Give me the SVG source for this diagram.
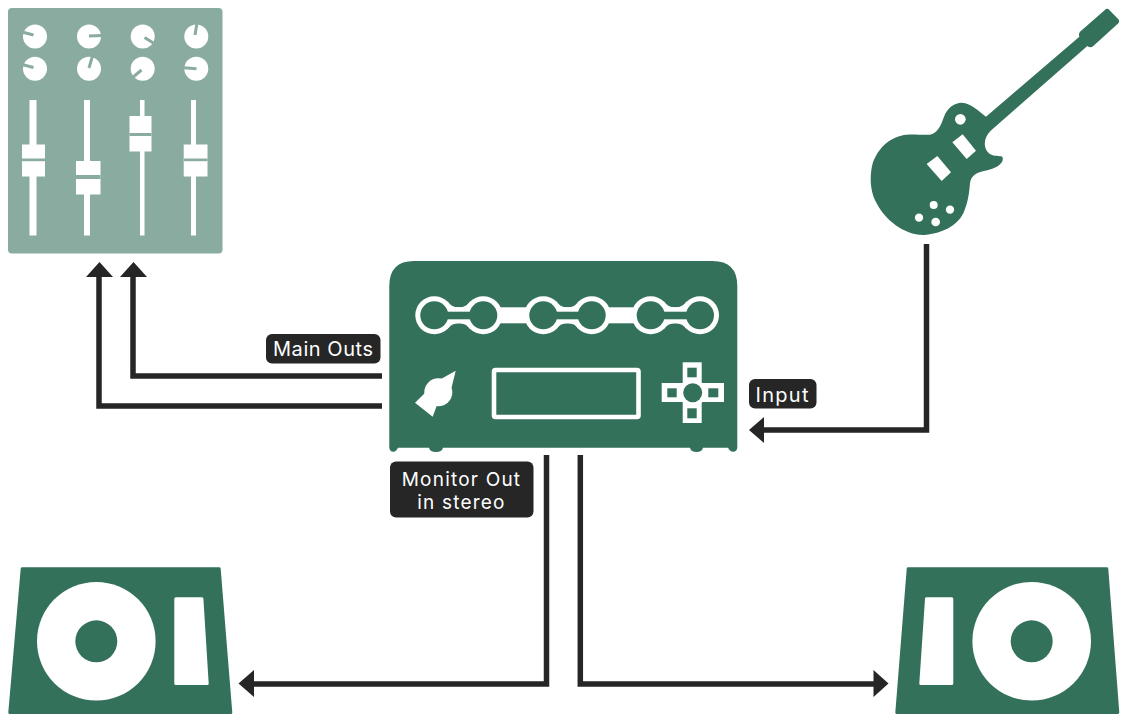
<svg xmlns="http://www.w3.org/2000/svg" width="1121" height="716" viewBox="0 0 1121 716">
<defs><style>
.g{fill:#34715b}
.w{fill:#fff}
.wire{fill:none;stroke:#262626;stroke-width:5.5;stroke-linejoin:miter}
.head{fill:#262626}
.tag{fill:#262626}
.lbl{fill:#fff;font-family:"Inter","Noto Sans",sans-serif;font-size:20px;font-weight:400;text-anchor:middle}
.slot{stroke:#8aaba0;stroke-width:3;fill:none}
.gap{fill:#8aaba0}
</style>
<path id="fillet" d="M13 -14 Q17 -8 24 -8 H25 Q32 -8 36 -14 V14 Q32 8 25 8 H24 Q17 8 13 14Z"/>
</defs>
<rect width="1121" height="716" fill="#fff"/>
<g id="mixer">
<rect x="8" y="8" width="214.500" height="245.500" rx="4" fill="#8aaba0"/>
<g class="w">
<circle cx="35" cy="36.500" r="12"/><circle cx="89" cy="36.500" r="12"/><circle cx="142.700" cy="36.500" r="12"/><circle cx="196.300" cy="36.500" r="12"/>
<circle cx="35" cy="68.700" r="12"/><circle cx="89" cy="68.700" r="12"/><circle cx="142.700" cy="68.700" r="12"/><circle cx="196.300" cy="68.700" r="12"/>
<rect x="29.500" y="100" width="7" height="135.500"/><rect x="84" y="100" width="6" height="135.500"/><rect x="140" y="100" width="4.500" height="135.500"/><rect x="191" y="100" width="5" height="135.500"/>
</g>
<g class="slot">
<path d="M33.500 35 L22 32"/><path d="M89 36 L102 35.500"/><path d="M144.500 37.500 L155 44"/><path d="M195 35 L197 23"/>
<path d="M33.500 67.500 L22 64.500"/><path d="M89 68 L92.500 56"/><path d="M141.500 70 L132 78"/><path d="M196.500 68.700 L184 67.700"/>
</g>
<g class="w">
<rect x="22" y="144.500" width="23" height="32"/>
<rect x="76" y="161" width="24.500" height="33.500"/>
<rect x="129.500" y="116" width="22" height="35.500"/>
<rect x="183.700" y="144.500" width="23.800" height="32"/>
</g>
<g class="gap">
<rect x="22" y="158.500" width="23" height="2.700"/>
<rect x="76" y="175" width="24.500" height="4"/>
<rect x="129.500" y="133" width="22" height="3"/>
<rect x="183.700" y="158.500" width="23.800" height="2.700"/>
</g>
</g>
<g id="guitar">
<g transform="translate(860 0) scale(.33333)">
<path class="g" d="M738 27 Q744 25 748 30 L775 58 Q780 64 775 70 L700 138 Q692 146 682 138 L392 392 C372 412 368 440 385 458 C398 470 412 466 424 469 Q432 472 426 486 C415 502 395 508 375 512 C350 517 335 525 330 548 C328 575 325 605 310 640 C290 680 245 700 195 705 C135 708 75 660 50 610 C30 575 28 530 38 490 C55 440 95 408 140 404 C165 402 190 406 210 404 C235 398 243 375 252 350 C262 322 285 308 305 308 C335 310 355 333 378 350 L658 110 Q655 102 660 95 Z"/>
<g class="w">
<circle cx="301" cy="358" r="16"/>
<path d="M308 403 L348 452 L320 477 L277 427Z"/><path d="M232 468 L273 517 L245 543 L200 492Z"/>
<circle cx="221" cy="615" r="12"/><circle cx="270" cy="629" r="12.500"/><circle cx="177" cy="653" r="12.500"/><circle cx="227" cy="666" r="13"/>
</g>
</g>
</g>
<g id="processor">
<path class="g" d="M389.300 286 Q389.300 261 414 261 H712.500 Q737.300 261 737.300 286 V447 Q737.300 451.700 733 451.700 Q730 451.700 728 447.700 H703 Q702 452 696.500 452 Q691 452 690 447.700 H443 Q442 452 436 452 Q430 452 429 447.700 H398 Q396 451.700 393.500 451.700 Q389.300 451.700 389.300 447 Z"/>
<g class="w">
<rect x="434" y="307.300" width="266" height="16"/>
<circle cx="434.300" cy="315.300" r="19"/><circle cx="483.300" cy="315.300" r="19"/><circle cx="543.300" cy="315.300" r="19"/><circle cx="591.700" cy="315.300" r="19"/><circle cx="650.700" cy="315.300" r="19"/><circle cx="700" cy="315.300" r="19"/>
<use href="#fillet" x="434.300" y="315.300"/><use href="#fillet" x="543" y="315.300"/><use href="#fillet" x="650.700" y="315.300"/>
</g>
<g class="g">
<rect x="434" y="311.700" width="49" height="7.600"/><rect x="543" y="311.700" width="49" height="7.600"/><rect x="651" y="311.700" width="49" height="7.600"/>
<circle cx="434.300" cy="315.300" r="14"/><circle cx="483.300" cy="315.300" r="14"/><circle cx="543.300" cy="315.300" r="14"/><circle cx="591.700" cy="315.300" r="14"/><circle cx="650.700" cy="315.300" r="14"/><circle cx="700" cy="315.300" r="14"/>
</g>
<g class="w">
<circle cx="438.300" cy="392.300" r="14"/>
<path d="M441 379 L455.700 370.700 L451.500 388Z"/>
<path d="M415 402.700 L432.700 416.700 L437 405 L426 392Z"/>
</g>
<rect x="494" y="370" width="144.500" height="47" rx="1.500" fill="none" stroke="#fff" stroke-width="4.600"/>
<g class="w">
<rect x="682.700" y="362.300" width="19" height="60.700"/><rect x="661.700" y="383" width="62.300" height="19"/><circle cx="692.700" cy="392.700" r="13.500"/>
</g>
<g class="g">
<rect x="687.300" y="367.700" width="9.400" height="9.600"/><rect x="667.300" y="388.300" width="9.400" height="9"/><rect x="708.300" y="388.300" width="10" height="9"/><rect x="687.300" y="408.300" width="9.400" height="10"/><circle cx="692.700" cy="392.700" r="9.500"/>
</g>
</g>
<g id="speaker-left">
<path class="g" stroke="#34715b" stroke-width="3" stroke-linejoin="round" d="M22.200 568.800 H219.200 L230.800 712.500 H9.800Z"/>
<circle class="w" cx="96.300" cy="641.300" r="59.300"/><circle class="g" cx="96.300" cy="641.300" r="21"/>
<path class="w" stroke="#fff" stroke-width="3" stroke-linejoin="round" d="M175.800 598.800 H201.900 L207.200 683.500 H175.800Z"/>
</g>
<g id="speaker-right">
<path class="g" stroke="#34715b" stroke-width="3" stroke-linejoin="round" d="M908.200 568.800 H1106.800 L1117.800 712.500 H896.800Z"/>
<circle class="w" cx="1031.700" cy="641.300" r="59.300"/><circle class="g" cx="1031.700" cy="641.300" r="21"/>
<path class="w" stroke="#fff" stroke-width="3" stroke-linejoin="round" d="M926.500 598.800 H951.800 V683.500 H920.800Z"/>
</g>
<g id="connectors">
<path class="wire" d="M382 376 H133 V275"/>
<path class="wire" d="M382 406 H99 V275"/>
<path class="wire" d="M926.500 244 V430 H762"/>
<path class="wire" d="M546.500 455 V684 H252"/>
<path class="wire" d="M580.300 455 V684 H875"/>
<path class="head" d="M133.500 262 L147 277 H120Z"/>
<path class="head" d="M99.500 262 L113 277 H86Z"/>
<path class="head" d="M749 430 L764 417 V443Z"/>
<path class="head" d="M238.500 683.500 L254 670 V697Z"/>
<path class="head" d="M888.500 683.500 L873.500 670 V697Z"/>
</g>
<g id="label-main-outs"><rect class="tag" x="266" y="334" width="114.500" height="29.500" rx="6"/><text class="lbl" x="323" y="356" textLength="100">Main Outs</text></g>
<g id="label-input"><rect class="tag" x="749" y="379" width="67.500" height="29.500" rx="6"/><text class="lbl" x="782" y="402" textLength="53">Input</text></g>
<g id="label-monitor"><rect class="tag" x="390" y="461.500" width="143.500" height="56" rx="6"/><text class="lbl" style="font-size:19px" x="461.500" y="485.500" letter-spacing="1.200">Monitor Out</text><text class="lbl" style="font-size:19px" x="461.500" y="509" letter-spacing="1.200">in stereo</text></g>
</svg>
